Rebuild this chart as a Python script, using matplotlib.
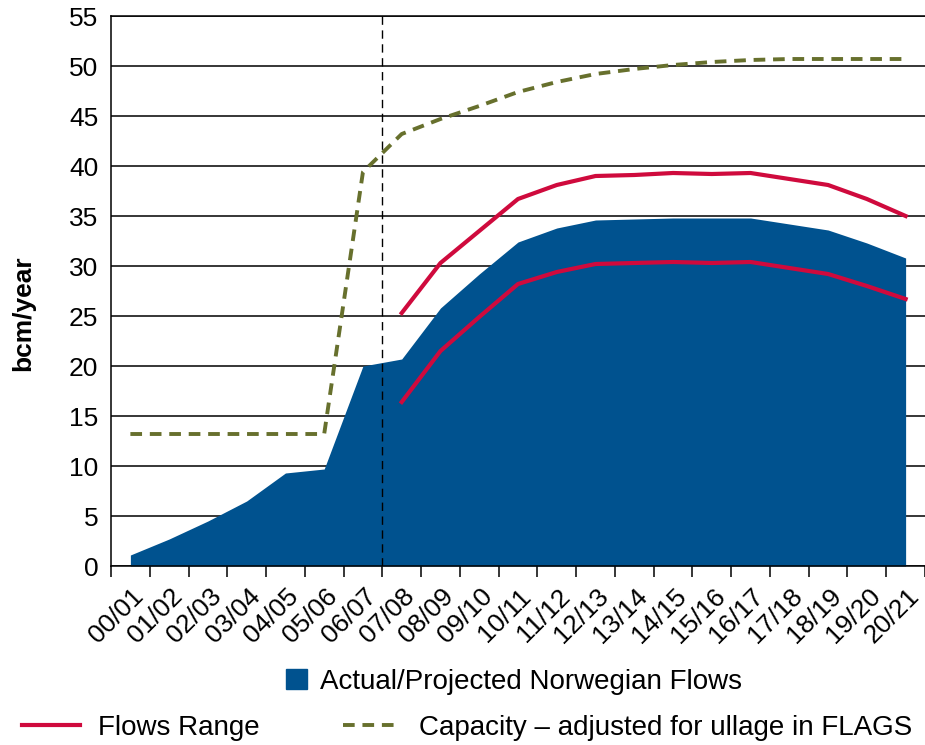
#! /usr/bin/env python3

"""
Norwegian gas flows vs. capacity, 2000/01 - 2020/21.
"""
import matplotlib.pyplot as plt
import matplotlib.transforms as mtransforms
from matplotlib.lines import Line2D
from matplotlib.patches import Patch

plt.rcParams['font.family'] = ['Liberation Sans', 'DejaVu Sans']

years = ['00/01', '01/02', '02/03', '03/04', '04/05', '05/06', '06/07',
         '07/08', '08/09', '09/10', '10/11', '11/12', '12/13', '13/14',
         '14/15', '15/16', '16/17', '17/18', '18/19', '19/20', '20/21']

# actual / projected flows (bcm/year)
flows = [1.1, 2.7, 4.5, 6.5, 9.3, 9.7, 20.0, 20.7, 25.8, 29.2, 32.4,
         33.8, 34.6, 34.7, 34.8, 34.8, 34.8, 34.2, 33.6, 32.3, 30.8]

# flows range starts in 07/08
range_years = years[7:]
range_high = [25.3, 30.3, 33.5, 36.7, 38.1, 39.0, 39.1, 39.3, 39.2, 39.3,
              38.7, 38.1, 36.7, 35.0]
range_low = [16.4, 21.5, 24.9, 28.2, 29.4, 30.2, 30.3, 30.4, 30.3, 30.4,
             29.8, 29.2, 28.0, 26.7]

# capacity adjusted for ullage in FLAGS
capacity = [13.2, 13.2, 13.2, 13.2, 13.2, 13.2, 39.4, 43.2, 44.7, 46.0, 47.4,
            48.4, 49.2, 49.7, 50.1, 50.4, 50.6, 50.7, 50.7, 50.7, 50.7]

BLUE = '#00528F'
RED = '#CF0A3D'
OLIVE = '#67702D'

x = list(range(len(years)))
xr = [years.index(y) for y in range_years]

fig = plt.figure(figsize=(9.25, 7.45), dpi=100)
ax = fig.add_axes([111 / 925, 179 / 745, 814 / 925, 550 / 745])

ax.fill_between(x, flows, 0, color=BLUE, linewidth=0, zorder=2)
ax.plot(xr, range_high, color=RED, lw=3, zorder=3)
ax.plot(xr, range_low, color=RED, lw=3, zorder=3)
ax.plot(x, capacity, color=OLIVE, lw=2.8, linestyle=(0, (3, 2)), zorder=3)
ax.axvline(6.5, color='black', lw=1.0, linestyle=(0, (6, 4)), zorder=4)

ax.set_ylim(0, 55)
ax.set_xlim(-0.5, 20.32)
ax.set_yticks(range(0, 56, 5))
ax.yaxis.grid(True, color='black', lw=1.1, zorder=1)
ax.set_axisbelow(True)
ax.tick_params(axis='y', length=0, pad=9, labelsize=19)

ax.set_xticks(x)
ax.set_xticklabels(years, fontsize=19)
ax.set_xticks([i - 0.5 for i in range(len(years) + 1)], minor=True)
ax.tick_params(axis='x', which='major', length=0, pad=13)
ax.tick_params(axis='x', which='minor', length=8, width=1.1, direction='out')
offset = mtransforms.ScaledTranslation(1 / 100, 0, fig.dpi_scale_trans)
for label in ax.get_xticklabels():
    label.set_rotation(45)
    label.set_ha('right')
    label.set_va('top')
    label.set_rotation_mode('anchor')
    label.set_transform(label.get_transform() + offset)

for side in ['left', 'bottom', 'top']:
    ax.spines[side].set_linewidth(1.1)
ax.spines['right'].set_visible(False)

fig.text(23 / 925, 1 - 313 / 745, 'bcm/year', rotation=90, ha='center',
         va='center', fontsize=19, fontweight='bold')

fig.legend(handles=[Patch(color=BLUE, label='Actual/Projected Norwegian Flows')],
           loc='center', bbox_to_anchor=(514 / 925, 1 - 682 / 745),
           frameon=False, fontsize=20, handlelength=0.75, handleheight=0.75,
           handletextpad=0.45)
fig.legend(handles=[Line2D([], [], color=RED, lw=3, label='Flows Range'),
                    Line2D([], [], color=OLIVE, lw=2.8, linestyle=(0, (3, 2)),
                           label='Capacity \u2013 adjusted for ullage in FLAGS')],
           loc='center', bbox_to_anchor=(467 / 925, 1 - 728 / 745), ncol=2,
           frameon=False, fontsize=20, handlelength=2.1, handletextpad=0.65,
           columnspacing=3)

fig.savefig('out.png', dpi=100)
